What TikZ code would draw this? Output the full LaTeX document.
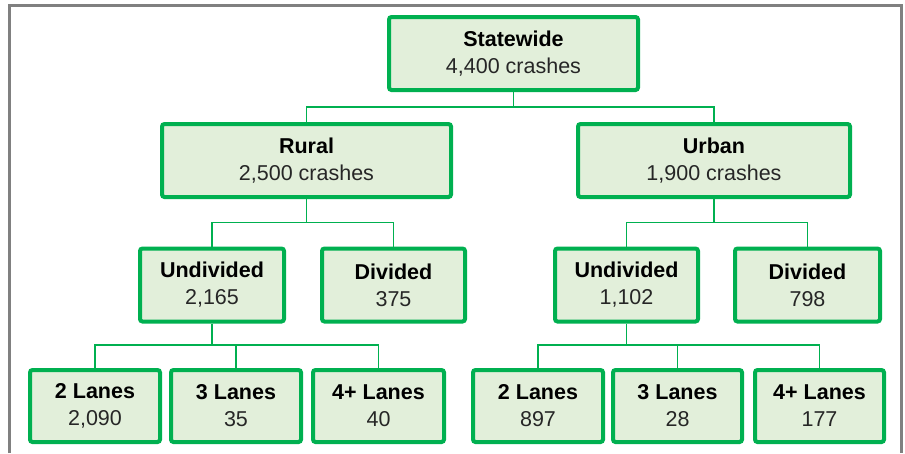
\documentclass[tikz,border=0pt]{standalone}
\usepackage{fontspec}
\setmainfont{Liberation Sans}
\usetikzlibrary{positioning}
\definecolor{boxgreen}{HTML}{00B050}
\definecolor{boxfill}{HTML}{E2EFDA}
\definecolor{framegray}{HTML}{808080}
\definecolor{numgray}{HTML}{262626}
\newcommand{\boxhead}[1]{\textcolor{black}{\bfseries #1}}

\begin{document}
\begin{tikzpicture}[x=1pt, y=-1pt,
    box/.style={rectangle, draw=boxgreen, line width=4pt, fill=boxfill, rounded corners=2.5pt, align=center, inner sep=0pt, minimum height=73pt, text=numgray, font=\fontsize{21.5}{27}\selectfont},
    link/.style={draw=boxgreen, line width=1.8pt}]
\useasboundingbox (0,0) rectangle (905,453);
\draw[framegray, line width=2.5pt] (9.5,453) -- (9.5,5.5) -- (901.5,5.5) -- (901.5,453);

\node[box, minimum width=249pt] (state) at (513.5, 53.5) {\boxhead{Statewide}\\4,400 crashes};
\node[box, minimum width=289pt] (rural) at (306.5, 160.5) {\boxhead{Rural}\\2,500 crashes};
\node[box, minimum width=272pt] (urban) at (714, 160.5) {\boxhead{Urban}\\1,900 crashes};

\node[box, minimum width=144pt] (rundiv) at (212, 285) {\boxhead{Undivided}\\2,165};
\node[box, minimum width=143pt] (rdiv) at (393.5, 285) {\boxhead{Divided}\\375};
\node[box, minimum width=143pt] (uundiv) at (626.5, 285) {\boxhead{Undivided}\\1,102};
\node[box, minimum width=145pt] (udiv) at (807.5, 285) {\boxhead{Divided}\\798};

\node[box, minimum width=130pt, minimum height=72pt] (rtwo) at (95, 406) {\boxhead{2 Lanes}\\2,090};
\node[box, minimum width=130pt, minimum height=72pt] (rthree) at (236, 406) {\boxhead{3 Lanes}\\35};
\node[box, minimum width=131pt, minimum height=72pt] (rfour) at (378.5, 406) {\boxhead{4+ Lanes}\\40};
\node[box, minimum width=130pt, minimum height=72pt] (utwo) at (538, 406) {\boxhead{2 Lanes}\\897};
\node[box, minimum width=129pt, minimum height=72pt] (uthree) at (677.5, 406) {\boxhead{3 Lanes}\\28};
\node[box, minimum width=129pt, minimum height=72pt] (ufour) at (819.5, 406) {\boxhead{4+ Lanes}\\177};

% junctions of the tree
\coordinate (jstate) at (513.5, 107);
\coordinate (jrural) at (306.5, 222.5);
\coordinate (jurban) at (714, 222.5);
\coordinate (jrundiv) at (212, 345);
\coordinate (juundiv) at (626.5, 345);

\draw[link] (state) -- (jstate) -| (rural);
\draw[link] (jstate) -| (urban);
\draw[link] (rural) -- (jrural) -| (rundiv);
\draw[link] (jrural) -| (rdiv);
\draw[link] (urban) -- (jurban) -| (uundiv);
\draw[link] (jurban) -| (udiv);
\draw[link] (rundiv) -- (jrundiv) -| (rtwo);
\draw[link] (jrundiv) -| (rthree);
\draw[link] (jrundiv) -| (rfour);
\draw[link] (uundiv) -- (juundiv) -| (utwo);
\draw[link] (juundiv) -| (uthree);
\draw[link] (juundiv) -| (ufour);
\end{tikzpicture}
\end{document}
